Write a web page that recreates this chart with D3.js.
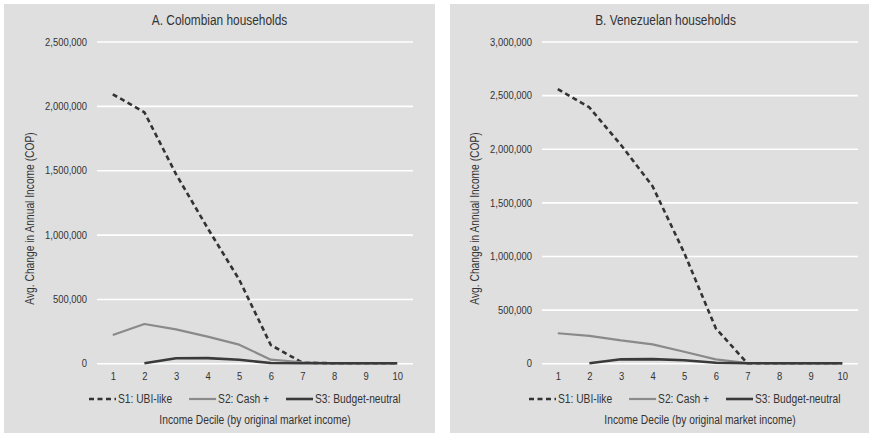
<!DOCTYPE html>
<html>
<head>
<meta charset="utf-8">
<script src="https://cdn.jsdelivr.net/npm/d3@7"></script>
<style>
  html, body { margin: 0; padding: 0; background: #ffffff; }
  svg { display: block; }
  text { font-family: "Liberation Sans Narrow", "Arial Narrow", "Liberation Sans", Arial, sans-serif; fill: #333333; }
</style>
</head>
<body>
<svg id="chart" width="869" height="435"></svg>
<script>
// ---- data ----
const deciles = [1, 2, 3, 4, 5, 6, 7, 8, 9, 10];
const seriesNames = ["S1: UBI-like", "S2: Cash +", "S3: Budget-neutral"];

const colS1 = [2090000, 1950000, 1470000, 1050000, 650000, 142000, 5000, 0, 0, 0];
const colS2 = [220000, 305000, 264000, 207000, 145000, 28000, 8000, 0, 0, 0];
const colS3 = [null, 0, 39000, 40000, 27000, 2000, 0, 0, 0, 0];

const venS1 = [2555000, 2385000, 2035000, 1650000, 1030000, 326000, 0, 0, 0, 0];
const venS2 = [280000, 256000, 213000, 177000, 108000, 37000, 3000, 0, 0, 0];
const venS3 = [null, 0, 37000, 39000, 28000, 5000, 0, 0, 0, 0];

const colTicks = [0, 500000, 1000000, 1500000, 2000000, 2500000];
const venTicks = [0, 500000, 1000000, 1500000, 2000000, 2500000, 3000000];

const panelTitles = ["A. Colombian households", "B. Venezuelan households"];
const yTitle = "Avg. Change in Annual Income (COP)";
const xTitle = "Income Decile (by original market income)";

// ---- layout / style ----
const SX = 0.82; // horizontal squeeze to mimic a narrow sans font
const styles = [
  { stroke: "#333333", width: 2.6, dash: "5,3.5" },
  { stroke: "#8a8a8a", width: 2.2, dash: null },
  { stroke: "#3a3a3a", width: 2.6, dash: null }
];

const panels = [
  { title: panelTitles[0], series: [colS1, colS2, colS3], ticks: colTicks,
    px: 4, pw: 431, x0: 97, x1: 413, yTitleX: 30, legendX: 89 },
  { title: panelTitles[1], series: [venS1, venS2, venS3], ticks: venTicks,
    px: 450, pw: 431, x0: 542, x1: 858, yTitleX: 475, legendX: 529 }
];
const panelTop = 4, panelBottom = 433;
const plotTop = 41.5, plotBottom = 363.3;

const svg = d3.select("#chart");
const fmt = d3.format(",");

function narrowText(parent, x, y, str, size, anchor, rotate) {
  return parent.append("text")
    .attr("transform", `translate(${x},${y})` + (rotate ? ` rotate(${rotate})` : "") + ` scale(${SX},1)`)
    .attr("text-anchor", anchor)
    .attr("font-size", size)
    .text(str);
}

panels.forEach(p => {
  const g = svg.append("g");
  g.append("rect")
    .attr("x", p.px).attr("y", panelTop)
    .attr("width", p.pw).attr("height", panelBottom - panelTop)
    .attr("fill", "#dfdfdf");

  const x = d3.scalePoint().domain(deciles).range([p.x0, p.x1]).padding(0.5);
  const y = d3.scaleLinear().domain([0, d3.max(p.ticks)]).range([plotBottom, plotTop]);

  // gridlines + y labels
  const yAxis = g.append("g")
    .attr("transform", `translate(${p.x0},0)`)
    .call(d3.axisLeft(y).tickValues(p.ticks).tickFormat(fmt)
      .tickSize(-(p.x1 - p.x0)).tickPadding(10 / SX));
  yAxis.select(".domain").remove();
  yAxis.selectAll(".tick line").attr("stroke", "#ffffff").attr("stroke-width", 1.6);
  yAxis.selectAll(".tick text").attr("font-size", 11.5).attr("fill", "#333")
    .attr("transform", `scale(${SX},1)`);

  // x labels
  const xAxis = g.append("g")
    .attr("transform", `translate(0,${plotBottom})`)
    .call(d3.axisBottom(x).tickSize(0).tickPadding(9));
  xAxis.select(".domain").remove();
  xAxis.selectAll(".tick text").attr("font-size", 11.5).attr("fill", "#333")
    .attr("transform", `scale(${SX},1)`);

  // lines
  p.series.forEach((vals, i) => {
    const data = deciles.map((d, k) => ({ d, v: vals[k] }));
    const line = d3.line()
      .defined(e => e.v !== null)
      .x(e => x(e.d))
      .y(e => y(e.v));
    g.append("path")
      .datum(data)
      .attr("d", line)
      .attr("fill", "none")
      .attr("stroke", styles[i].stroke)
      .attr("stroke-width", styles[i].width)
      .attr("stroke-dasharray", styles[i].dash)
      .attr("stroke-linejoin", "round");
  });

  // title
  narrowText(g, p.px + p.pw / 2, 25, p.title, 14.5, "middle");

  // y title
  const cy = (panelTop + panelBottom) / 2;
  narrowText(g, p.yTitleX + 4, cy, yTitle, 12.5, "middle", -90);

  // x title
  narrowText(g, (p.x0 + p.x1) / 2, 424, xTitle, 12.5, "middle");

  // legend
  const lg = g.append("g").attr("transform", `translate(${p.legendX},399)`);
  let cx = 0;
  seriesNames.forEach((name, i) => {
    const item = lg.append("g").attr("transform", `translate(${cx},0)`);
    item.append("line")
      .attr("x1", 0).attr("x2", 27).attr("y1", 0).attr("y2", 0)
      .attr("stroke", styles[i].stroke)
      .attr("stroke-width", styles[i].width)
      .attr("stroke-dasharray", styles[i].dash);
    const t = narrowText(item, 29, 4.3, name, 12.5, "start");
    cx += 29 + t.node().getComputedTextLength() * SX + 17;
  });
});
</script>
</body>
</html>
